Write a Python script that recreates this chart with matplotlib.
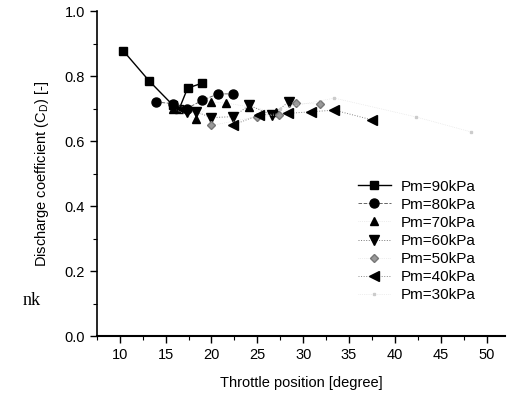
import numpy as np
import matplotlib
matplotlib.use('Agg')
import matplotlib.pyplot as plt
from matplotlib.ticker import MultipleLocator

plt.rcParams['font.family'] = ['Liberation Sans', 'DejaVu Sans']

# throttle position [degree] and discharge coefficient for each manifold pressure
x90 = [10.4, 13.2, 15.8, 16.5, 17.4, 19.0]
y90 = [0.877, 0.785, 0.710, 0.700, 0.763, 0.778]

x80 = [14.0, 15.8, 17.3, 19.0, 20.7, 22.4]
y80 = [0.720, 0.715, 0.700, 0.725, 0.745, 0.745]

x70 = [15.8, 18.3, 20.0, 21.6, 24.1, 27.0]
y70 = [0.700, 0.668, 0.720, 0.717, 0.705, 0.690]

x60 = [17.3, 18.3, 20.0, 22.4, 24.1, 26.6, 28.4]
y60 = [0.690, 0.690, 0.672, 0.675, 0.710, 0.680, 0.720]

x50 = [20.0, 25.0, 27.4, 29.2, 31.8]
y50 = [0.648, 0.675, 0.680, 0.716, 0.714]

x40 = [22.4, 25.2, 28.3, 30.9, 33.4, 37.5]
y40 = [0.650, 0.680, 0.685, 0.690, 0.695, 0.665]

x30 = [27.5, 33.4, 42.3, 48.3]
y30 = [0.700, 0.732, 0.674, 0.628]

labels = ['Pm=90kPa', 'Pm=80kPa', 'Pm=70kPa', 'Pm=60kPa',
          'Pm=50kPa', 'Pm=40kPa', 'Pm=30kPa']

fig = plt.figure(figsize=(5.07, 3.93), dpi=100)
ax = fig.add_axes([0.191, 0.145, 0.805, 0.827])

ax.plot(x90, y90, '-', color='black', lw=1.0, marker='s', ms=5.5, label=labels[0])
ax.plot(x80, y80, '--', color='#666666', lw=0.7, marker='o', ms=6.5,
        mfc='black', mec='black', label=labels[1])
ax.plot(x70, y70, ':', color='#dddddd', lw=0.5, marker='^', ms=5.5,
        mfc='black', mec='black', label=labels[2])
ax.plot(x60, y60, ':', color='#777777', lw=0.7, marker='v', ms=6.5,
        mfc='black', mec='black', label=labels[3])
ax.plot(x50, y50, ':', color='#dddddd', lw=0.5, marker='D', ms=4.5,
        mfc='#999999', mec='#777777', label=labels[4])
ax.plot(x40, y40, ':', color='#888888', lw=0.7, marker='<', ms=6.5,
        mfc='black', mec='black', label=labels[5])
ax.plot(x30, y30, ':', color='#e0e0e0', lw=0.5, marker='s', ms=1.8,
        mfc='#cccccc', mec='#cccccc', label=labels[6])

ax.set_xlim(7.5, 52)
ax.set_ylim(0, 1.0)
ax.xaxis.set_major_locator(MultipleLocator(5))
ax.xaxis.set_minor_locator(MultipleLocator(2.5))
ax.yaxis.set_major_locator(MultipleLocator(0.2))
ax.yaxis.set_minor_locator(MultipleLocator(0.1))
ax.set_xticks(np.arange(10, 55, 5))
ax.yaxis.set_major_formatter(matplotlib.ticker.FormatStrFormatter('%.1f'))

ax.spines['top'].set_visible(False)
ax.spines['right'].set_visible(False)
ax.spines['left'].set_linewidth(1.2)
ax.spines['bottom'].set_linewidth(1.5)
ax.tick_params(which='major', direction='out', length=5, width=1, labelsize=10.5)
ax.tick_params(which='minor', direction='out', length=3, width=0.8)

ax.set_xlabel('Throttle position [degree]', fontsize=10.5, labelpad=10)
ax.set_ylabel('Discharge coefficient (C$_\\mathregular{D}$) [-]', fontsize=10.5, labelpad=10)

ax.legend(loc='upper left', bbox_to_anchor=(0.62, 0.505), frameon=False,
          fontsize=11, handlelength=2.2, labelspacing=0.27,
          borderpad=0, handletextpad=0.6)

fig.text(0.045, 0.225, 'nk', family='Liberation Serif', fontsize=13)

fig.savefig('out.png', dpi=100)
